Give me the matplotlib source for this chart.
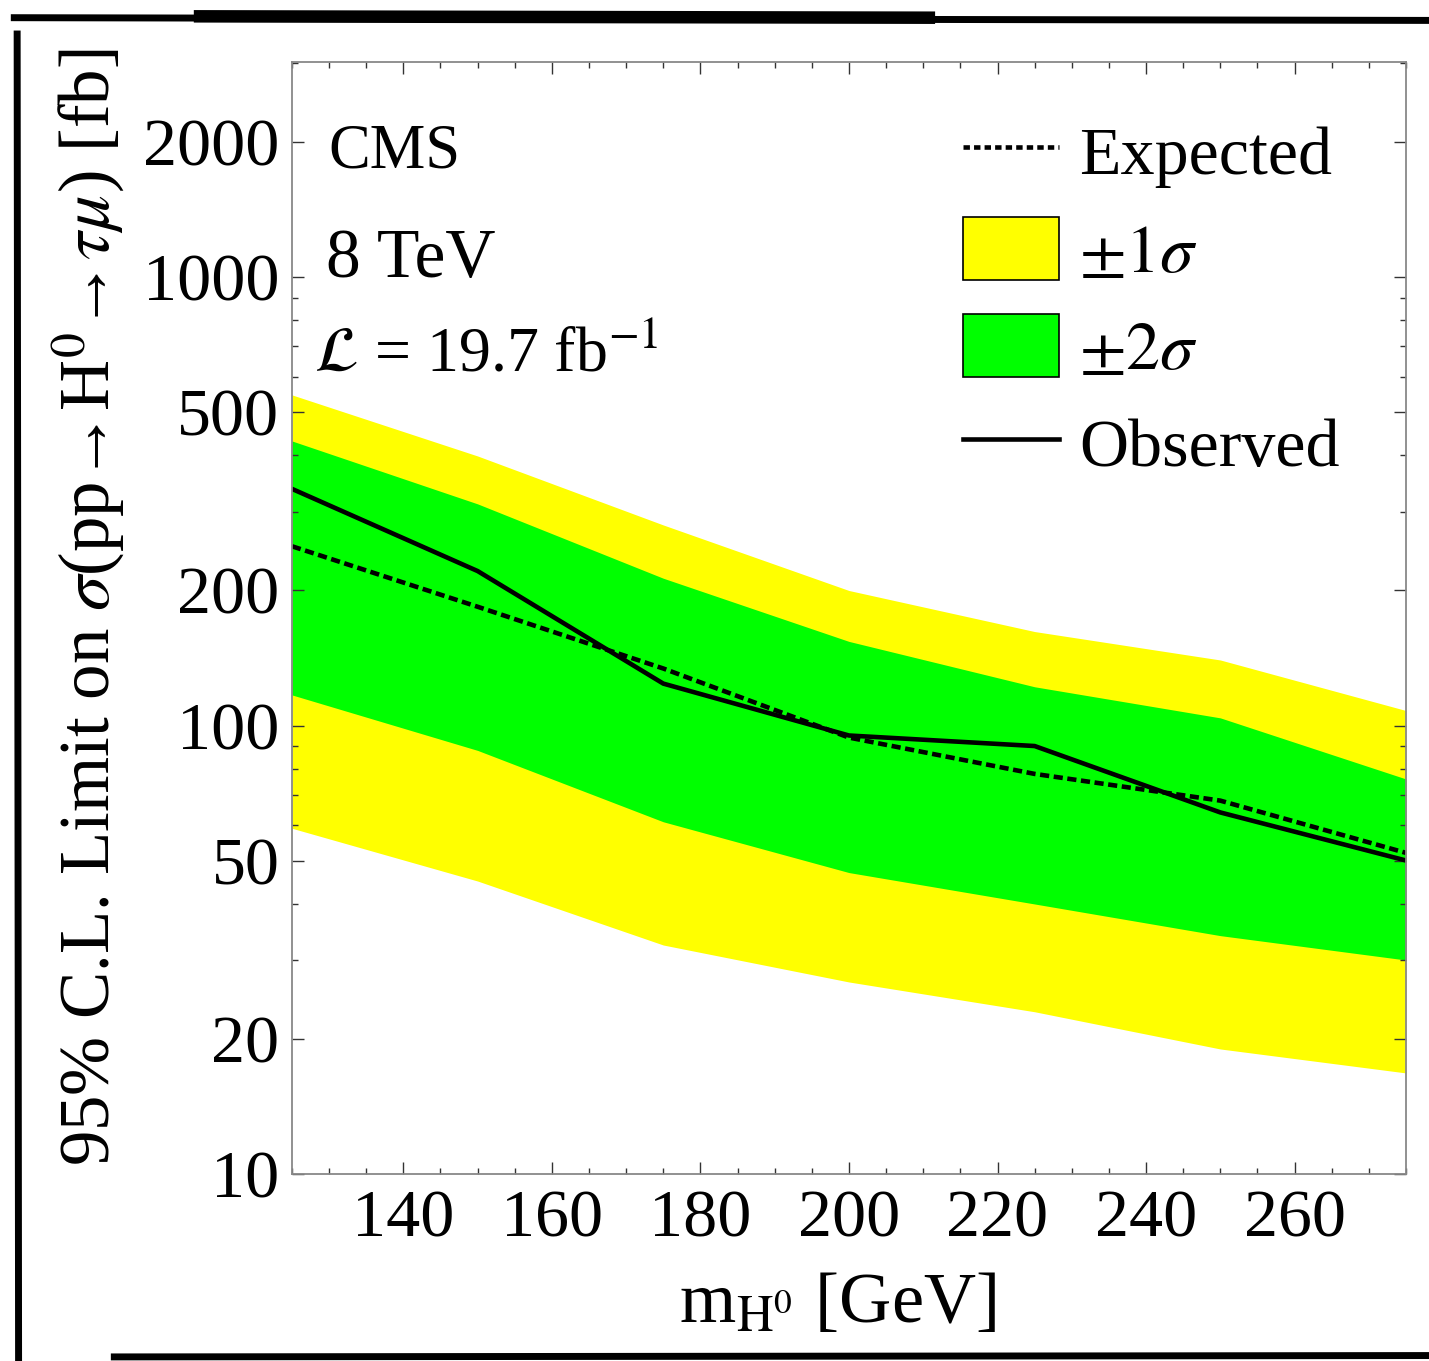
import matplotlib
matplotlib.use("Agg")
import matplotlib.pyplot as plt
from matplotlib.lines import Line2D
from matplotlib.patches import Patch
from matplotlib.ticker import FixedLocator, FixedFormatter, LogLocator, NullFormatter, MultipleLocator
import numpy as np

plt.rcParams['font.family'] = ['Liberation Serif', 'DejaVu Serif']
plt.rcParams['mathtext.fontset'] = 'stix'

# limits from the CMS 8 TeV H0 -> tau mu search [fb]
mass = [125, 150, 175, 200, 225, 250, 275]
observed = [337, 221, 124, 95, 90, 64, 50]
expected = [251, 184, 134, 94, 78, 68, 52]
band2_lo = [117, 88, 61, 47, 40, 34, 30]
band2_hi = [431, 312, 213, 154, 122, 104, 76]
band1_lo = [59, 45, 32.4, 26.8, 23, 19, 16.8]
band1_hi = [546, 399, 280, 200, 162, 140, 108]

y_ticks = [10, 20, 50, 100, 200, 500, 1000, 2000]
x_ticks = [140, 160, 180, 200, 220, 240, 260]

fig = plt.figure(figsize=(14.29, 13.61), dpi=100)
ax = fig.add_axes([0.2043, 0.1374, 0.7796, 0.8170])

ax.fill_between(mass, band1_lo, band1_hi, color='#ffff00', lw=0)
ax.fill_between(mass, band2_lo, band2_hi, color='#00ff00', lw=0)
ax.plot(mass, expected, color='black', lw=3.3, ls=(0, (2.0, 1.0)))
ax.plot(mass, observed, color='black', lw=3.3)

ax.set_yscale('log')
ax.set_xlim(125, 275)
ax.set_ylim(10, 3015)

ax.yaxis.set_major_locator(FixedLocator(y_ticks))
ax.yaxis.set_major_formatter(FixedFormatter([str(v) for v in y_ticks]))
ax.yaxis.set_minor_locator(LogLocator(base=10, subs=np.arange(1, 10)))
ax.yaxis.set_minor_formatter(NullFormatter())
ax.xaxis.set_major_locator(FixedLocator(x_ticks))
ax.xaxis.set_minor_locator(MultipleLocator(5))

ax.tick_params(which='both', direction='in', top=True, right=True, width=1.0, color='#333333')
ax.tick_params(which='major', length=8.6, labelsize=49)
ax.tick_params(which='minor', length=4)
ax.tick_params(axis='x', pad=11)
ax.tick_params(axis='y', pad=9)
for sp in ax.spines.values():
    sp.set_color('#888888')
    sp.set_linewidth(1.3)

ax.set_xlabel(r'm$_{\mathrm{H}^0}$ [GeV]', fontsize=52)
ax.xaxis.set_label_coords(0.49, -0.088)
ax.set_ylabel(r'95% C.L. Limit on $\sigma$(pp→H$^0$→$\tau\mu$) [fb]', fontsize=51)
ax.yaxis.set_label_coords(-0.148, 0.51)

ax.text(0.033, 0.919, 'CMS', transform=ax.transAxes, fontsize=45, va='center')
ax.text(0.031, 0.822, '8 TeV', transform=ax.transAxes, fontsize=50, va='center')
ax.text(0.02, 0.735, r'$\mathcal{L}$ = 19.7 fb$^{-1}$', transform=ax.transAxes, fontsize=46, va='center')

handles = [
    Line2D([], [], color='black', lw=3.3, ls=(0, (1.4, 0.9))),
    Patch(facecolor='#ffff00', edgecolor='black', lw=1.2),
    Patch(facecolor='#00ff00', edgecolor='black', lw=1.2),
    Line2D([], [], color='black', lw=3.3),
]
labels = ['Expected', r'$\pm1\sigma$', r'$\pm2\sigma$', 'Observed']
ax.legend(handles, labels, loc='upper right', bbox_to_anchor=(0.977, 0.985), frameon=False,
          fontsize=49, handlelength=1.4, handleheight=1.05, handletextpad=0.3,
          labelspacing=0.42, borderaxespad=0.2)

# brush-stroke frame around the figure
fig.add_artist(Line2D([0.01, 1.0], [0.987, 0.985], color='black', lw=5, transform=fig.transFigure))
fig.add_artist(Line2D([0.14, 0.65], [0.988, 0.987], color='black', lw=9, transform=fig.transFigure))
fig.add_artist(Line2D([0.013, 0.012], [0.0, 0.975], color='black', lw=5, transform=fig.transFigure))
fig.add_artist(Line2D([0.08, 1.0], [0.003, 0.004], color='black', lw=5, transform=fig.transFigure))

fig.savefig('out.png', dpi=100)
